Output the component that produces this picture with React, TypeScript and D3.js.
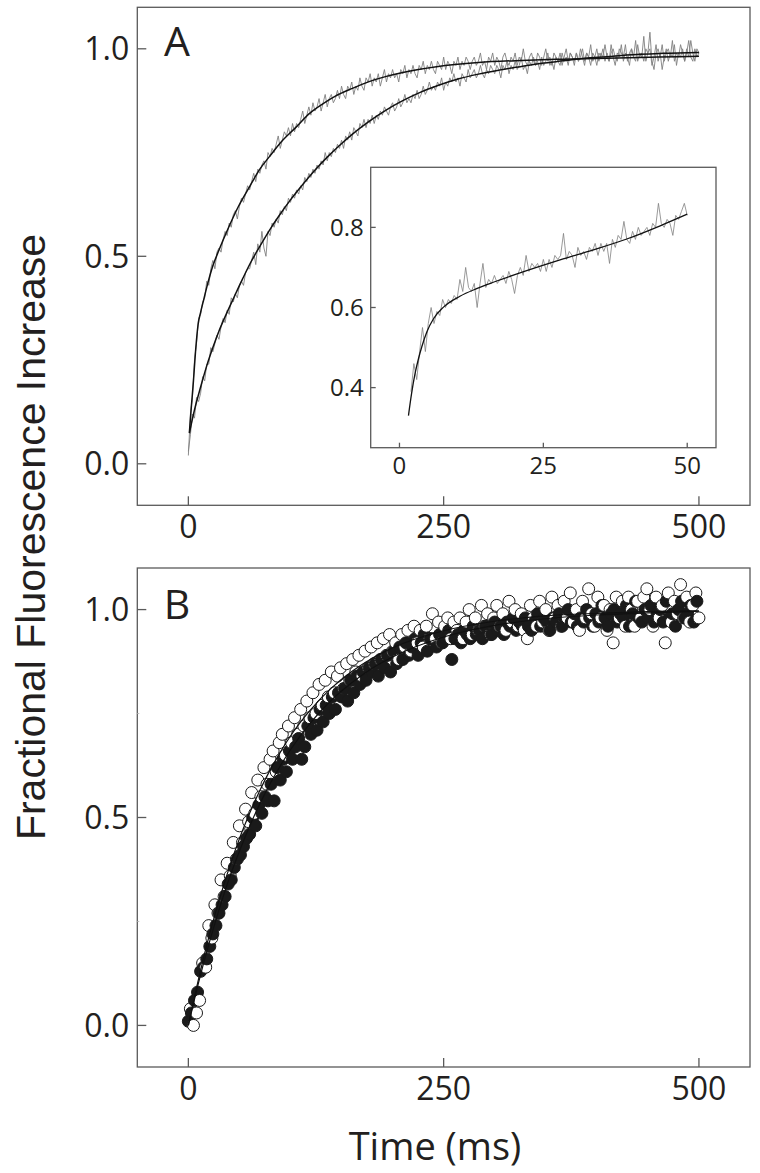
import React from "react";
import * as d3 from "d3";

// ---------- axis ticks ----------
const TIME_TICKS = [0, 250, 500];
const FRAC_TICKS = [0, 0.5, 1.0];
const FRAC_MINOR_TICKS_B = [0.25, 0.75];
const INSET_TIME_TICKS = [0, 25, 50];
const INSET_FRAC_TICKS = [0.4, 0.6, 0.8];

// ---------- Panel A: noisy traces (sampled every 2 ms from 0 ms) ----------
const TRACE_START_MS = 0;
const TRACE_STEP_MS = 2;
const TRACE_FAST = [
  0.02, 0.12, 0.16, 0.25, 0.29, 0.35, 0.36, 0.39, 0.4, 0.44,
  0.43, 0.47, 0.49, 0.47, 0.51, 0.52, 0.51, 0.54, 0.56, 0.55,
  0.58, 0.57, 0.6, 0.61, 0.59, 0.62, 0.64, 0.63, 0.65, 0.67,
  0.66, 0.68, 0.7, 0.68, 0.71, 0.7, 0.72, 0.73, 0.71, 0.75,
  0.74, 0.76, 0.75, 0.77, 0.79, 0.76, 0.78, 0.8, 0.79, 0.81,
  0.79, 0.82, 0.8, 0.82, 0.81, 0.83, 0.85, 0.82, 0.84, 0.86,
  0.84, 0.87, 0.85, 0.86, 0.88, 0.85, 0.87, 0.89, 0.86, 0.88,
  0.89, 0.87, 0.88, 0.9, 0.88, 0.91, 0.89, 0.88, 0.91, 0.9,
  0.92, 0.89, 0.91, 0.9, 0.93, 0.91, 0.9, 0.93, 0.92, 0.94,
  0.91, 0.93, 0.92, 0.94, 0.91, 0.93, 0.95, 0.92, 0.94, 0.93,
  0.95, 0.93, 0.94, 0.92, 0.95, 0.94, 0.96, 0.93, 0.95, 0.94,
  0.96, 0.94, 0.93, 0.96, 0.95, 0.97, 0.94, 0.96, 0.95, 0.97,
  0.95, 0.94, 0.97, 0.96, 0.95, 0.98, 0.95, 0.97, 0.96, 0.94,
  0.97, 0.96, 0.98, 0.95, 0.97, 0.96, 0.98, 0.97, 0.95, 0.97,
  0.98, 0.96, 0.97, 0.99, 0.96, 0.97, 0.95, 0.98, 0.97, 0.99,
  0.96, 0.98, 0.97, 0.95, 0.98, 0.99, 0.97, 0.96, 0.98, 0.97,
  0.99, 0.96, 0.98, 0.97, 1.0, 0.97, 0.96, 0.98, 0.99, 0.97,
  0.96, 0.99, 0.98, 0.96, 0.98, 1.0, 0.97, 0.98, 0.96, 0.99,
  0.98, 0.97, 0.99, 0.96, 0.98, 1.0, 0.97, 0.99, 0.98, 0.96,
  0.99, 0.97, 1.0, 0.98, 0.96, 0.99, 0.98, 1.01, 0.97, 0.98,
  0.96, 0.99, 0.98, 1.0, 0.97, 0.99, 0.97, 1.01, 0.98, 0.96,
  0.99, 0.98, 1.01, 0.97, 0.99, 0.98, 0.96, 1.0, 0.98, 1.02,
  0.97, 0.99, 0.98, 1.03, 0.97, 0.99, 1.0, 0.96, 0.98, 1.01,
  0.97, 0.99, 0.95, 0.98, 1.0, 0.97, 0.99, 0.98, 1.01, 0.96,
  0.99, 0.98, 1.0, 0.97, 0.99, 1.02, 0.98, 0.97, 1.0, 0.98,
  0.99,
];
const TRACE_SLOW = [
  0.03, 0.07, 0.12, 0.11, 0.16, 0.15, 0.17, 0.21, 0.2, 0.24,
  0.24, 0.28, 0.27, 0.29, 0.31, 0.3, 0.33, 0.35, 0.34, 0.37,
  0.36, 0.4, 0.39, 0.41, 0.4, 0.43, 0.44, 0.43, 0.46, 0.47,
  0.47, 0.49, 0.51, 0.48, 0.53, 0.51, 0.56, 0.52, 0.5, 0.56,
  0.55, 0.58, 0.57, 0.59, 0.58, 0.61, 0.6, 0.62, 0.61, 0.64,
  0.63, 0.65, 0.64, 0.66, 0.65, 0.67, 0.66, 0.69, 0.68, 0.7,
  0.69, 0.71, 0.7, 0.72, 0.71, 0.73, 0.72, 0.75, 0.73, 0.75,
  0.74, 0.76, 0.75, 0.77, 0.76, 0.78, 0.76, 0.79, 0.78, 0.8,
  0.78, 0.81, 0.8, 0.79, 0.82, 0.81, 0.83, 0.81, 0.83, 0.82,
  0.84, 0.82, 0.84, 0.83, 0.85, 0.84, 0.86, 0.85, 0.84, 0.86,
  0.87, 0.85, 0.86, 0.88, 0.86, 0.87, 0.89, 0.87, 0.88, 0.87,
  0.89, 0.88, 0.9, 0.88, 0.89, 0.91, 0.89, 0.9, 0.92, 0.9,
  0.91, 0.9, 0.92, 0.91, 0.93, 0.9, 0.92, 0.91, 0.93, 0.92,
  0.94, 0.92, 0.93, 0.91, 0.94, 0.93, 0.92, 0.95, 0.93, 0.94,
  0.95, 0.93, 0.94, 0.96, 0.94, 0.93, 0.95, 0.94, 0.96, 0.95,
  0.94, 0.96, 0.95, 0.93, 0.96, 0.95, 0.97, 0.94, 0.96, 0.95,
  0.97, 0.95, 0.96, 0.98, 0.95, 0.96, 0.94, 0.97, 0.96, 0.98,
  0.96, 0.97, 0.95, 0.98, 0.96, 0.97, 0.99, 0.96, 0.97, 0.95,
  0.98, 0.97, 0.96, 0.99, 0.97, 0.98, 0.96, 0.99, 0.98, 0.97,
  0.99, 0.97, 0.98, 1.0, 0.97, 0.99, 0.98, 0.96, 0.99, 0.98,
  1.0, 0.97, 0.99, 0.98, 1.01, 0.98, 0.97, 0.99, 1.0, 0.98,
  0.97, 1.0, 0.99, 0.98, 1.01, 0.97, 0.99, 1.0, 0.98, 0.97,
  1.01, 0.98, 0.99, 0.97, 1.0, 0.99, 1.04, 0.97, 0.95, 0.99,
  1.0, 0.98, 1.01, 0.97, 0.99, 1.0, 0.98, 1.02, 0.97, 0.99,
  0.98, 1.01, 0.99, 0.97, 1.0, 0.98, 1.02, 0.99, 0.97, 1.0,
  0.99,
];

// ---------- Panel A: fitted curves ----------
const FIT_FAST_T = [1, 3, 5, 7, 9.5, 12, 15, 18, 24, 30, 37, 49, 60, 70, 80, 90, 105, 119, 132, 144, 160, 177, 193, 210, 243, 284, 326, 367, 420, 460, 500];
const FIT_FAST_V = [0.075, 0.14, 0.2, 0.27, 0.335, 0.365, 0.395, 0.425, 0.477, 0.515, 0.556, 0.62, 0.668, 0.71, 0.742, 0.773, 0.81, 0.845, 0.868, 0.886, 0.904, 0.921, 0.933, 0.943, 0.957, 0.967, 0.972, 0.975, 0.978, 0.98, 0.982];
const FIT_SLOW_T = [1, 6, 12, 18, 24, 30, 37, 45, 53, 61, 70, 80, 90, 100, 111, 123, 136, 148, 161, 177, 194, 210, 227, 245, 264, 284, 305, 325, 346, 367, 388, 410, 429, 465, 500];
const FIT_SLOW_V = [0.074, 0.13, 0.185, 0.236, 0.28, 0.32, 0.36, 0.403, 0.445, 0.485, 0.524, 0.565, 0.602, 0.636, 0.67, 0.705, 0.739, 0.767, 0.795, 0.825, 0.853, 0.875, 0.895, 0.912, 0.927, 0.939, 0.949, 0.957, 0.965, 0.971, 0.977, 0.981, 0.985, 0.989, 0.991];

// ---------- Inset: trace sampled every 0.5 ms from 2 ms ----------
const INSET_START_MS = 2;
const INSET_STEP_MS = 0.5;
const INSET_TRACE = [
  0.39, 0.46, 0.42, 0.49, 0.55, 0.49, 0.56, 0.6, 0.56, 0.59,
  0.58, 0.62, 0.6, 0.62, 0.61, 0.63, 0.62, 0.67, 0.64, 0.7,
  0.65, 0.64, 0.66, 0.6, 0.66, 0.71, 0.65, 0.67, 0.66, 0.68,
  0.66, 0.67, 0.68, 0.66, 0.69, 0.67, 0.635, 0.68, 0.7, 0.68,
  0.73, 0.69, 0.71, 0.7, 0.71, 0.69, 0.72, 0.69, 0.72, 0.7,
  0.73, 0.72, 0.73, 0.785, 0.72, 0.74, 0.73, 0.7, 0.75, 0.73,
  0.74, 0.72, 0.75, 0.74, 0.76, 0.73, 0.76, 0.74, 0.76, 0.71,
  0.77, 0.75, 0.78, 0.77, 0.815, 0.77, 0.76, 0.79, 0.77, 0.8,
  0.78, 0.79, 0.8, 0.78, 0.81, 0.8, 0.86, 0.81, 0.8, 0.82,
  0.81, 0.78, 0.83, 0.82, 0.84, 0.86, 0.83,
];
const INSET_FIT_T = [1.56, 2.1, 2.72, 3.3, 3.88, 4.75, 5.91, 7.65, 10.5, 13.4, 16.3, 22.1, 27.9, 33.7, 39.5, 45.3, 50];
const INSET_FIT_V = [0.33, 0.385, 0.436, 0.472, 0.502, 0.539, 0.572, 0.601, 0.628, 0.647, 0.663, 0.692, 0.719, 0.744, 0.771, 0.804, 0.833];

// ---------- Panel B: scatter series (every 3 ms) ----------
const B_STEP_MS = 3;
const B_OPEN_START_MS = 2;
const B_OPEN = [
  0.04, 0.0, 0.03, 0.06, 0.15, 0.14, 0.24, 0.21, 0.29, 0.27,
  0.35, 0.31, 0.39, 0.36, 0.44, 0.4, 0.48, 0.44, 0.52, 0.49,
  0.56, 0.51, 0.59, 0.55, 0.62, 0.58, 0.64, 0.66, 0.61, 0.68,
  0.7, 0.65, 0.72, 0.68, 0.74, 0.7, 0.76, 0.72, 0.78, 0.74,
  0.8, 0.75, 0.82, 0.77, 0.83, 0.79, 0.85, 0.8, 0.84, 0.86,
  0.81, 0.87, 0.83, 0.88, 0.85, 0.89, 0.84, 0.9, 0.86, 0.91,
  0.87, 0.92, 0.88, 0.93, 0.89, 0.94, 0.9, 0.92, 0.88, 0.94,
  0.91, 0.95, 0.9, 0.96, 0.92, 0.95, 0.91, 0.96, 0.93, 0.99,
  0.93, 0.97, 0.92, 0.96, 0.98, 0.93, 0.97, 0.95, 0.98, 0.93,
  0.97, 1.0, 0.94, 0.98, 0.95, 1.01, 0.96, 0.99, 0.94, 0.98,
  1.01, 0.96, 0.99, 0.95, 1.02, 0.97, 1.0, 0.96, 0.99, 0.95,
  0.93, 1.01, 0.98, 0.96, 1.02, 0.97, 1.0, 0.95, 1.03, 0.98,
  1.01, 0.96, 1.02, 0.98, 1.04, 0.97, 1.0, 0.95, 1.02, 0.98,
  1.05, 0.99, 0.96, 1.03, 0.98, 1.01, 0.95, 1.0, 0.92, 1.03,
  0.98, 1.02, 0.96, 1.03, 1.0, 0.96, 1.02, 0.98, 1.03, 1.05,
  1.0, 0.96, 1.03, 0.98, 1.01, 0.92, 1.04, 0.97, 1.02, 0.99,
  1.06, 0.98, 1.03, 0.97, 1.01, 1.04, 0.98,
];
const B_FILLED_START_MS = 0;
const B_FILLED = [
  0.01, 0.03, 0.06, 0.08, 0.13, 0.14, 0.16, 0.19, 0.22, 0.24,
  0.27, 0.29, 0.31, 0.34, 0.35, 0.38, 0.4, 0.41, 0.43, 0.45,
  0.46, 0.5, 0.48, 0.53, 0.51, 0.55, 0.54, 0.58, 0.54, 0.62,
  0.59, 0.64, 0.61, 0.66, 0.64, 0.67, 0.69, 0.64, 0.67, 0.72,
  0.7, 0.74, 0.71, 0.76, 0.73, 0.77, 0.75, 0.79, 0.76, 0.8,
  0.79, 0.81, 0.78, 0.83, 0.8, 0.84, 0.82, 0.85, 0.83, 0.86,
  0.85, 0.87, 0.84, 0.88, 0.86, 0.89, 0.85, 0.9, 0.87, 0.91,
  0.88, 0.92, 0.89, 0.91, 0.93, 0.89, 0.92, 0.94, 0.9, 0.93,
  0.93, 0.91, 0.94, 0.92, 0.93, 0.95, 0.88, 0.93, 0.94, 0.92,
  0.95, 0.94, 0.93, 0.96, 0.94, 0.95, 0.93, 0.96, 0.95, 0.94,
  0.97, 0.95, 0.96, 0.94, 0.97, 0.96, 0.98, 0.95, 0.97, 0.96,
  0.98, 0.96, 0.95, 0.97, 0.99, 0.96, 0.98, 0.97, 0.95, 0.98,
  0.97, 0.99, 0.96, 0.98, 1.0, 0.97, 0.99, 0.96, 0.98, 0.97,
  1.0, 0.98, 0.96, 0.99, 0.97, 1.01, 0.98, 0.96, 0.99, 1.0,
  0.97, 0.99, 0.98, 1.01, 0.96, 0.99, 1.02, 0.98, 0.97, 1.0,
  0.98, 1.01, 0.97, 0.99, 1.0, 0.97, 1.02, 0.98, 0.99, 0.96,
  1.0, 1.02, 0.98, 0.99, 1.01, 0.97, 1.02,
];
const B_FIT_T = [0, 10, 20, 30, 40, 50, 60, 70, 80, 90, 100, 120, 140, 160, 180, 200, 250, 300, 350, 400, 450, 500];
const B_FIT_OPEN_V = [0.0, 0.112, 0.212, 0.3, 0.379, 0.449, 0.51, 0.565, 0.614, 0.657, 0.696, 0.76, 0.811, 0.851, 0.883, 0.908, 0.949, 0.972, 0.985, 0.991, 0.995, 0.997];
const B_FIT_FILLED_V = [0.0, 0.103, 0.195, 0.278, 0.353, 0.419, 0.479, 0.533, 0.581, 0.624, 0.663, 0.729, 0.782, 0.824, 0.859, 0.886, 0.934, 0.962, 0.978, 0.987, 0.992, 0.996];

const Y_LABEL = "Fractional Fluorescence Increase";
const X_LABEL = "Time (ms)";

// ---------- styles ----------
const TICK_FONT = "'Open Sans', 'DejaVu Sans', sans-serif";
const LABEL_FONT = "'Liberation Sans', Arial, sans-serif";
const FRAME = "#5a5a5a";
const TEXT = "#231f20";

type Pt = [number, number];

function sampled(values: number[], start: number, step: number): Pt[] {
  return values.map((v, i) => [start + i * step, v] as Pt);
}
function paired(t: number[], v: number[]): Pt[] {
  return t.map((tt, i) => [tt, v[i]] as Pt);
}

function Frame({ x, y, tickLen, xTicks, yTicks, xFmt, yFmt, fontSize, xLabelDy, yLabelDx, minorY = [] as number[] }: any) {
  const [x0, x1] = x.range();
  const [y0, y1] = y.range();
  return (
    <g>
      <rect x={x0} y={y1} width={x1 - x0} height={y0 - y1} fill="#fff" stroke={FRAME} strokeWidth={1.3} />
      {yTicks.map((t: number) => (
        <g key={"y" + t}>
          <line x1={x0} x2={x0 + tickLen} y1={y(t)} y2={y(t)} stroke={FRAME} strokeWidth={1.3} />
          <text x={x0 - yLabelDx} y={y(t)} dy="0.36em" textAnchor="end" fontFamily={TICK_FONT} fontSize={fontSize} fill={TEXT}>
            {yFmt(t)}
          </text>
        </g>
      ))}
      {minorY.map((t: number) => (
        <line key={"m" + t} x1={x0} x2={x0 + 2} y1={y(t)} y2={y(t)} stroke="#bbb" strokeWidth={1} />
      ))}
      {xTicks.map((t: number) => (
        <g key={"x" + t}>
          <line x1={x(t)} x2={x(t)} y1={y0} y2={y0 - tickLen} stroke={FRAME} strokeWidth={1.3} />
          <text x={x(t)} y={y0 + xLabelDy} textAnchor="middle" fontFamily={TICK_FONT} fontSize={fontSize} fill={TEXT}>
            {xFmt(t)}
          </text>
        </g>
      ))}
    </g>
  );
}

export default function App() {
  const xMain = d3.scaleLinear().domain([-50, 550]).range([137.3, 750]);
  const yA = d3.scaleLinear().domain([-0.1, 1.1]).range([505.3, 7.3]);
  const yB = d3.scaleLinear().domain([-0.1, 1.1]).range([1067, 568]);
  const xIn = d3.scaleLinear().domain([-5, 55]).range([370.7, 716]);
  const yIn = d3.scaleLinear().domain([0.25, 0.95]).range([447.7, 167.3]);

  const lineA = d3.line<Pt>().x((d) => xMain(d[0])).y((d) => yA(d[1]));
  const fitA = d3.line<Pt>().x((d) => xMain(d[0])).y((d) => yA(d[1])).curve(d3.curveMonotoneX);
  const lineIn = d3.line<Pt>().x((d) => xIn(d[0])).y((d) => yIn(d[1]));
  const fitIn = d3.line<Pt>().x((d) => xIn(d[0])).y((d) => yIn(d[1])).curve(d3.curveMonotoneX);
  const fitB = d3.line<Pt>().x((d) => xMain(d[0])).y((d) => yB(d[1])).curve(d3.curveMonotoneX);

  const fmt1 = d3.format(".1f");
  const fmt0 = d3.format("d");

  const fast = sampled(TRACE_FAST, TRACE_START_MS, TRACE_STEP_MS);
  const slow = sampled(TRACE_SLOW, TRACE_START_MS, TRACE_STEP_MS);
  const inset = sampled(INSET_TRACE, INSET_START_MS, INSET_STEP_MS);

  // interleave the two scatter series in time order so neither sits fully on top
  const bPoints = [
    ...sampled(B_FILLED, B_FILLED_START_MS, B_STEP_MS).map((d) => ({ t: d[0], v: d[1], filled: true })),
    ...sampled(B_OPEN, B_OPEN_START_MS, B_STEP_MS).map((d) => ({ t: d[0], v: d[1], filled: false })),
  ].sort((a, b) => a.t - b.t);

  const trace = { fill: "none", stroke: "#808080", strokeWidth: 0.9, strokeLinejoin: "round" as const };
  const fitStyle = { fill: "none", stroke: "#111", strokeWidth: 1.5 };

  return (
    <svg width={760} height={1173} style={{ position: "absolute", left: 0, top: 0, background: "#fff" }}>
      {/* Panel A */}
      <Frame x={xMain} y={yA} tickLen={9} xTicks={TIME_TICKS} yTicks={FRAC_TICKS} xFmt={fmt0} yFmt={fmt1} fontSize={32} xLabelDy={33} yLabelDx={8} />
      <path d={lineA(slow) || ""} {...trace} />
      <path d={lineA(fast) || ""} {...trace} />
      <path d={fitA(paired(FIT_SLOW_T, FIT_SLOW_V)) || ""} {...fitStyle} />
      <path d={fitA(paired(FIT_FAST_T, FIT_FAST_V)) || ""} {...fitStyle} />
      <text x={177} y={56} textAnchor="middle" fontFamily={TICK_FONT} fontSize={41} fill={TEXT}>A</text>

      {/* Inset */}
      <Frame x={xIn} y={yIn} tickLen={5} xTicks={INSET_TIME_TICKS} yTicks={INSET_FRAC_TICKS} xFmt={fmt0} yFmt={fmt1} fontSize={24} xLabelDy={26} yLabelDx={7} />
      <path d={lineIn(inset) || ""} {...trace} strokeWidth={0.8} />
      <path d={fitIn(paired(INSET_FIT_T, INSET_FIT_V)) || ""} {...fitStyle} strokeWidth={1.3} />

      {/* Panel B */}
      <Frame x={xMain} y={yB} tickLen={9} xTicks={TIME_TICKS} yTicks={FRAC_TICKS} xFmt={fmt0} yFmt={fmt1} fontSize={32} xLabelDy={33} yLabelDx={8} minorY={FRAC_MINOR_TICKS_B} />
      {bPoints.map((p, i) => (
        <circle key={i} cx={xMain(p.t)} cy={yB(p.v)} r={6} fill={p.filled ? "#1a1a1a" : "#fff"} stroke="#1a1a1a" strokeWidth={1} />
      ))}
      <path d={fitB(paired(B_FIT_T, B_FIT_FILLED_V)) || ""} {...fitStyle} strokeWidth={1.2} />
      <path d={fitB(paired(B_FIT_T, B_FIT_OPEN_V)) || ""} {...fitStyle} strokeWidth={1.2} />
      <text x={177} y={619} textAnchor="middle" fontFamily={TICK_FONT} fontSize={41} fill={TEXT}>B</text>

      {/* Axis titles */}
      <text transform="translate(45,537) rotate(-90)" textAnchor="middle" fontFamily={LABEL_FONT} fontSize={41} fill={TEXT}>
        {Y_LABEL}
      </text>
      <text x={435} y={1160} textAnchor="middle" fontFamily={TICK_FONT} fontSize={38} fill={TEXT}>
        {X_LABEL}
      </text>
    </svg>
  );
}
